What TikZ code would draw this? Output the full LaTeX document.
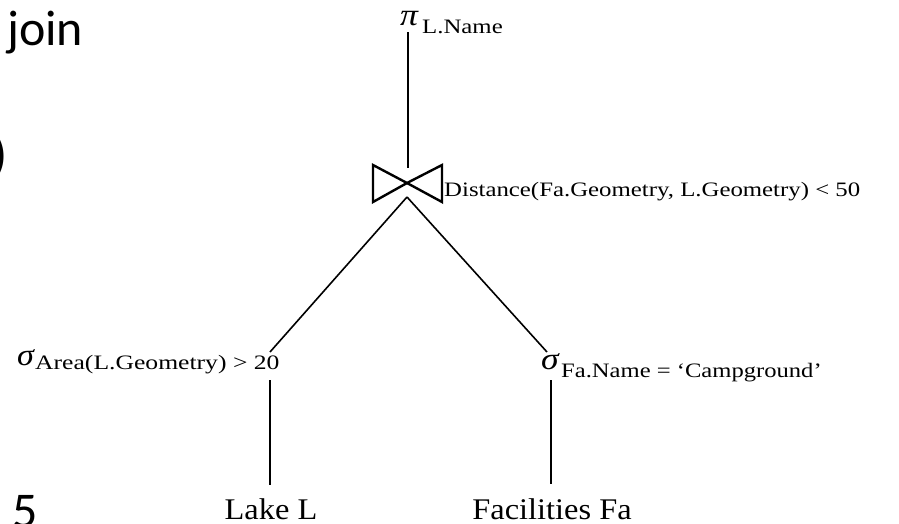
\documentclass[tikz,border=0pt]{standalone}
\usepackage{fontspec}
\usepackage{graphicx}
\setmainfont{Liberation Serif}
\newfontfamily\slidefont{Carlito}
\newcommand\xstretch[2]{\scalebox{#1}[1]{#2}}
\begin{document}
\begin{tikzpicture}[x=1pt,y=-1pt,
  edge/.style={line width=1.6pt, line cap=butt},
  joinsym/.style={line width=2.4pt, line join=miter},
  opsym/.style={inner sep=0pt, anchor=base west, font=\fontsize{31}{31}\selectfont\itshape},
  opcond/.style={inner sep=0pt, anchor=base west, font=\fontsize{20.5}{20.5}\selectfont},
  relname/.style={inner sep=0pt, anchor=base, font=\fontsize{30}{30}\selectfont},
  slidetext/.style={inner sep=0pt, font=\fontsize{50}{50}\slidefont}]
\useasboundingbox (0,0) rectangle (899,523);
\clip (0,0) rectangle (899,523);

% fragments of the surrounding slide text
\node[slidetext, anchor=base west] (sjoin) at (7,45) {join};
\node[slidetext, anchor=base east] (sparen) at (8,171) {)};
\node[slidetext, anchor=base west] (sfive) at (12,527) {5};

% projection
\node[opsym] (proj) at (400,25) {\xstretch{1.15}{π}};
\node[opcond] (projc) at (422,33) {\xstretch{1.21}{L.Name}};

% join operator (bowtie) and its condition
\coordinate (jc) at (407,183);
\coordinate (jtop) at (408,168);
\coordinate (jbot) at (407,197);
\draw[joinsym] (373,165) -- (373,202) -- (jc) -- cycle;
\draw[joinsym] (442,165) -- (442,202) -- (jc) -- cycle;
\node[opcond] (joinc) at (444,196) {\xstretch{1.21}{Distance(Fa.Geometry, L.Geometry) < 50}};

% selections
\node[opsym] (selL) at (17,365) {\xstretch{1.1}{σ}};
\node[opcond] (selLc) at (35,369) {\xstretch{1.25}{Area(L.Geometry) > 20}};
\node[opsym] (selR) at (541,369) {\xstretch{1.15}{σ}};
\node[opcond] (selRc) at (561,377) {\xstretch{1.2}{Fa.Name = ‘Campground’}};

% base relations
\node[relname] (lake) at (271,519) {\xstretch{1.08}{Lake L}};
\node[relname] (fac) at (552,519) {\xstretch{1.08}{Facilities Fa}};

% tree edges
\coordinate (projB) at (408,32);
\coordinate (selLt) at (270,352);
\coordinate (selRt) at (547,352);
\coordinate (selLb) at (270,380);
\coordinate (selRb) at (551,380);
\coordinate (lakeT) at (270,485);
\coordinate (facT) at (551,484);
\draw[edge] (projB) -- (jtop);
\draw[edge] (jbot) -- (selLt);
\draw[edge] (jbot) -- (selRt);
\draw[edge] (selLb) -- (lakeT);
\draw[edge] (selRb) -- (facT);
\end{tikzpicture}
\end{document}
